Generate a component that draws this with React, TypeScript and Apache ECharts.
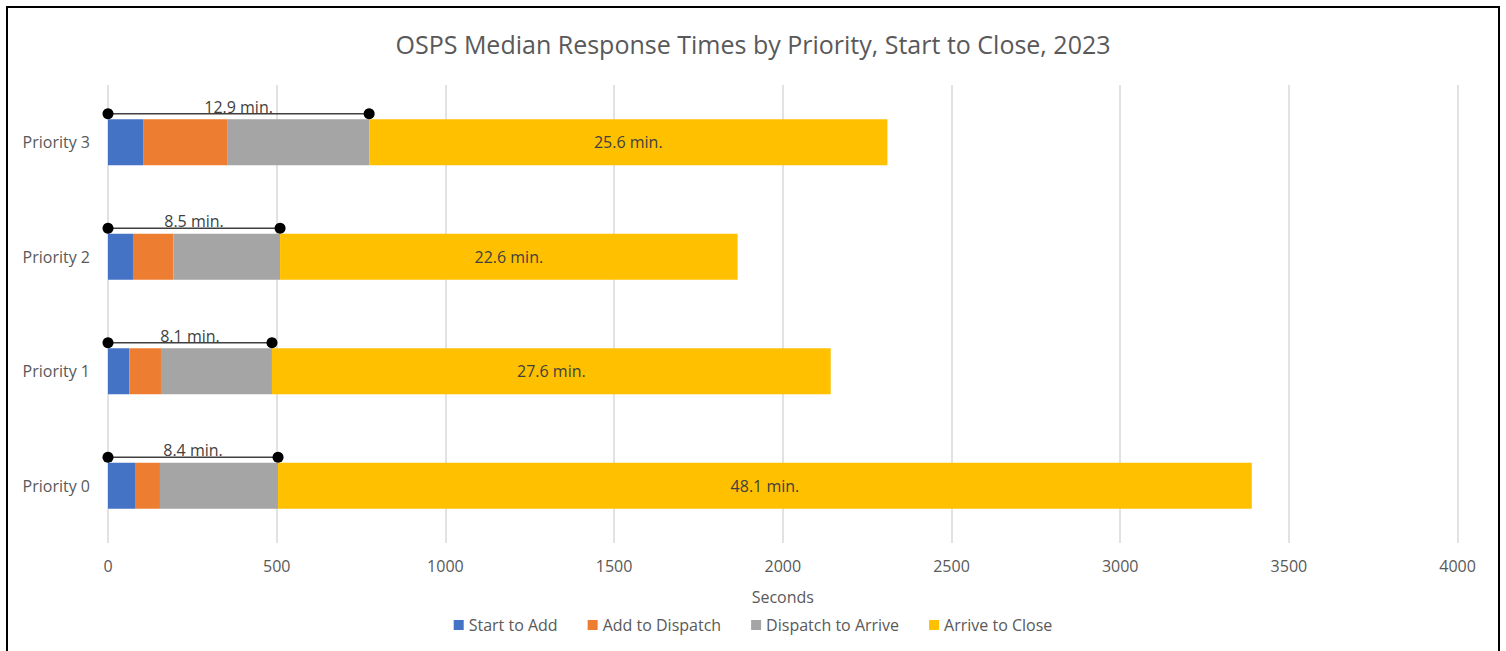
import React, { useEffect, useRef } from "react";
import * as echarts from "echarts";

const categories = ["Priority 0", "Priority 1", "Priority 2", "Priority 3"];
const startToAdd = [80, 63, 74, 104];
const addToDispatch = [74, 94, 120, 249];
const dispatchToArrive = [350, 329, 316, 421];
const arriveToClose = [2886, 1656, 1356, 1536];
const seriesNames = ["Start to Add", "Add to Dispatch", "Dispatch to Arrive", "Arrive to Close"];
const colors = ["#4472C4", "#ED7D31", "#A5A5A5", "#FFC000"];
const xTicks = { min: 0, max: 4000, interval: 500 };

const FONT = "'Open Sans', sans-serif";

export default function App() {
  const ref = useRef<HTMLDivElement>(null);
  useEffect(() => {
    if (!ref.current) return;
    const chart = echarts.init(ref.current, null, { renderer: "svg" });
    const toArrive = categories.map(
      (_, i) => startToAdd[i] + addToDispatch[i] + dispatchToArrive[i]
    );
    const bracketData = categories.map((_, i) => [
      toArrive[i],
      i,
      (toArrive[i] / 60).toFixed(1) + " min.",
    ]);
    const segs = [startToAdd, addToDispatch, dispatchToArrive, arriveToClose];
    const barSeries = segs.map((arr, k) => ({
      name: seriesNames[k],
      type: "bar",
      stack: "total",
      barWidth: "40%",
      data: arr,
      itemStyle: { color: colors[k] },
      label:
        k === 3
          ? {
              show: true,
              position: "inside",
              formatter: (p: any) => (p.value / 60).toFixed(1) + " min.",
              color: "#404040",
              fontFamily: FONT,
              fontSize: 16,
            }
          : { show: false },
    }));
    chart.setOption({
      animation: false,
      backgroundColor: "#ffffff",
      textStyle: { fontFamily: FONT },
      title: {
        text: "OSPS Median Response Times by Priority, Start to Close, 2023",
        left: "center",
        top: 28,
        padding: 0,
        textStyle: {
          color: "#595959",
          fontWeight: "normal",
          fontFamily: FONT,
          fontSize: 25,
          lineHeight: 32,
        },
      },
      graphic: [
        {
          type: "rect",
          shape: { x: 7, y: 7, width: 1492, height: 700 },
          style: { fill: "none", stroke: "#000000", lineWidth: 2 },
          silent: true,
          z: 100,
        },
      ],
      legend: {
        data: seriesNames,
        bottom: 13,
        left: "center",
        icon: "rect",
        itemWidth: 10,
        itemHeight: 10,
        itemGap: 30,
        textStyle: { color: "#595959", fontFamily: FONT, fontSize: 16 },
      },
      grid: { left: 108, right: 48.4, top: 85, bottom: 108, containLabel: false },
      xAxis: {
        type: "value",
        min: xTicks.min,
        max: xTicks.max,
        interval: xTicks.interval,
        name: "Seconds",
        nameLocation: "middle",
        nameGap: 46,
        nameTextStyle: { color: "#595959", fontFamily: FONT, fontSize: 16 },
        axisLine: { show: false },
        axisTick: { show: false },
        axisLabel: {
          color: "#595959",
          fontFamily: FONT,
          fontSize: 16,
          margin: 15,
          formatter: (v: number) => String(v),
        },
        splitLine: { show: true, lineStyle: { color: "#D9D9D9", width: 1.5 } },
      },
      yAxis: {
        type: "category",
        data: categories,
        axisLine: { show: false },
        axisTick: { show: false },
        axisLabel: { color: "#595959", fontFamily: FONT, fontSize: 16, margin: 18 },
        splitLine: { show: false },
      },
      series: [
        ...barSeries,
        {
          type: "custom",
          name: "bracket",
          clip: false,
          z: 10,
          encode: { x: 0, y: 1 },
          data: bracketData,
          renderItem: (params: any, api: any) => {
            const v = api.value(0);
            const c = api.value(1);
            const p0 = api.coord([0, c]);
            const p1 = api.coord([v, c]);
            const band = api.size([0, 1])[1];
            const y = p0[1] - band * 0.2 - 5.5;
            const label = bracketData[params.dataIndex][2] as string;
            return {
              type: "group",
              children: [
                {
                  type: "line",
                  shape: { x1: p0[0], y1: y, x2: p1[0], y2: y },
                  style: { stroke: "#404040", lineWidth: 1.5 },
                },
                {
                  type: "circle",
                  shape: { cx: p0[0], cy: y, r: 5.5 },
                  style: { fill: "#000000" },
                },
                {
                  type: "circle",
                  shape: { cx: p1[0], cy: y, r: 5.5 },
                  style: { fill: "#000000" },
                },
                {
                  type: "text",
                  x: (p0[0] + p1[0]) / 2,
                  y: y + 1,
                  style: {
                    text: label,
                    align: "center",
                    verticalAlign: "bottom",
                    fill: "#404040",
                    font: "16px 'Open Sans', sans-serif",
                  },
                },
              ],
            };
          },
        },
      ],
    });
    return () => chart.dispose();
  }, []);
  return (
    <div
      ref={ref}
      style={{ position: "absolute", left: 0, top: 0, width: 1506, height: 651 }}
    />
  );
}
